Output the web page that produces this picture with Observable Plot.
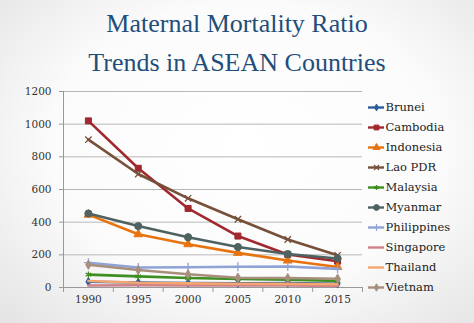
<!DOCTYPE html>
<html><head><meta charset="utf-8">
<script src="https://cdn.jsdelivr.net/npm/d3@7"></script>
<script src="https://cdn.jsdelivr.net/npm/@observablehq/plot@0.6"></script>
<style>
html,body{margin:0;padding:0;}
body{width:474px;height:323px;overflow:hidden;position:relative;
  background: radial-gradient(ellipse 75% 80% at 52% 45%, #ffffff 0%, #fbfbfb 55%, #e2e2e2 100%);
  font-family:"Liberation Serif", serif;}
#title{position:absolute;left:0;top:4px;width:474px;text-align:center;color:#1f4e7a;font-size:26px;line-height:39px;}
#chart{position:absolute;left:0;top:80px;}
#legend{position:absolute;left:360px;top:95px;}
svg{background:transparent !important;}
</style></head><body>
<div id="title">Maternal Mortality Ratio<br>Trends in ASEAN Countries</div>
<div id="chart"></div><div id="legend"></div>
<script>
const years = [1990, 1995, 2000, 2005, 2010, 2015];
const countries = ["Brunei","Cambodia","Indonesia","Lao PDR","Malaysia","Myanmar","Philippines","Singapore","Thailand","Vietnam"];
const brunei      = [35, 31, 28, 26, 27, 23];
const cambodia    = [1020, 730, 484, 315, 202, 161];
const indonesia   = [446, 326, 265, 212, 165, 126];
const laoPDR      = [905, 695, 546, 418, 294, 197];
const malaysia    = [79, 68, 58, 52, 48, 40];
const myanmar     = [453, 376, 308, 248, 205, 178];
const philippines = [152, 122, 124, 127, 129, 114];
const singapore   = [12, 14, 13, 13, 12, 10];
const thailand    = [40, 29, 25, 23, 22, 20];
const vietnam     = [139, 107, 81, 60, 58, 54];
const yTicks = [0, 200, 400, 600, 800, 1000, 1200];

const series = [brunei, cambodia, indonesia, laoPDR, malaysia, myanmar, philippines, singapore, thailand, vietnam];
const colors = ["#2d5c9e","#a1282f","#e8730e","#77503a","#3e8e22","#4f6262","#8fa3d6","#cf8089","#f4a670","#a88f7d"];
const symbols = ["diamond","square","triangle","times","asterisk","circle","plus",null,null,"diamond"];
const sizes = [2.6, 3.4, 3.2, 3, 3, 3.6, 3, 0, 0, 2.8];
const FONT = "DejaVu Serif";

const rows = [];
countries.forEach((c, i) => years.forEach((yr, j) => rows.push({country: c, year: yr, value: series[i][j], idx: i})));

const step = years[1] - years[0];
const xDomain = [years[0] - step / 2, years[years.length - 1] + step / 2];
const boundaries = [...years.map(y => y - step / 2), years[years.length - 1] + step / 2];

const marks = [
  Plot.gridY(yTicks.filter(t => t > 0), {stroke: "#b8b8b8", strokeOpacity: 1, strokeWidth: 1}),
  Plot.ruleX([xDomain[0]], {stroke: "#999"}),
  Plot.ruleY([0], {stroke: "#999"}),
  Plot.axisY(yTicks, {tickSize: 4, tickPadding: 8, stroke: "#999", label: null, fill: "#333", tickFormat: d => String(d), fontFamily: FONT, fontSize: 10.5}),
  Plot.axisX(boundaries, {tickSize: 5, tickFormat: () => "", stroke: "#999", label: null}),
  Plot.axisX(years, {tickSize: 0, tickPadding: 8, tickFormat: d => String(d), label: null, fill: "#333", fontFamily: FONT, fontSize: 10.5}),
];
countries.forEach((c, i) => {
  const data = rows.filter(r => r.idx === i);
  marks.push(Plot.line(data, {x: "year", y: "value", stroke: colors[i], strokeWidth: 2.6}));
  if (symbols[i]) {
    const stroked = ["times","asterisk","plus"].includes(symbols[i]);
    marks.push(Plot.dot(data, {x: "year", y: "value", symbol: () => symbols[i], r: sizes[i],
      fill: stroked ? "none" : colors[i], stroke: colors[i], strokeWidth: stroked ? 1.3 : 1}));
  }
});

const chart = Plot.plot({
  width: 370, height: 243,
  marginLeft: 63, marginRight: 8, marginTop: 11, marginBottom: 36,
  x: {type: "linear", domain: xDomain, axis: null},
  y: {domain: [0, 1200], axis: null},
  symbol: {type: "identity"},
  style: {background: "transparent", color: "#333"},
  marks
});
document.getElementById("chart").append(chart);

// Legend
const legendRows = countries.map((c, i) => ({country: c, i}));
const lmarks = [];
legendRows.forEach(d => {
  lmarks.push(Plot.ruleY([d], {x1: 0, x2: 1, y: "country", stroke: colors[d.i], strokeWidth: 2.4}));
  if (symbols[d.i]) {
    const stroked = ["times","asterisk","plus"].includes(symbols[d.i]);
    lmarks.push(Plot.dot([d], {x: 0.5, y: "country", symbol: () => symbols[d.i], r: sizes[d.i] * 0.8,
      fill: stroked ? "none" : colors[d.i], stroke: colors[d.i], strokeWidth: stroked ? 1.2 : 1}));
  }
});
lmarks.push(Plot.text(legendRows, {x: 1, y: "country", text: "country", textAnchor: "start", dx: 1, fill: "#222", fontFamily: FONT, fontSize: 11.5}));
const legend = Plot.plot({
  width: 114, height: 205,
  marginLeft: 8, marginRight: 90, marginTop: 12, marginBottom: 13,
  x: {domain: [0, 1], axis: null},
  y: {type: "point", domain: countries, axis: null, padding: 0},
  symbol: {type: "identity"},
  style: {background: "transparent"},
  marks: lmarks
});
document.getElementById("legend").append(legend);
</script>
</body></html>
